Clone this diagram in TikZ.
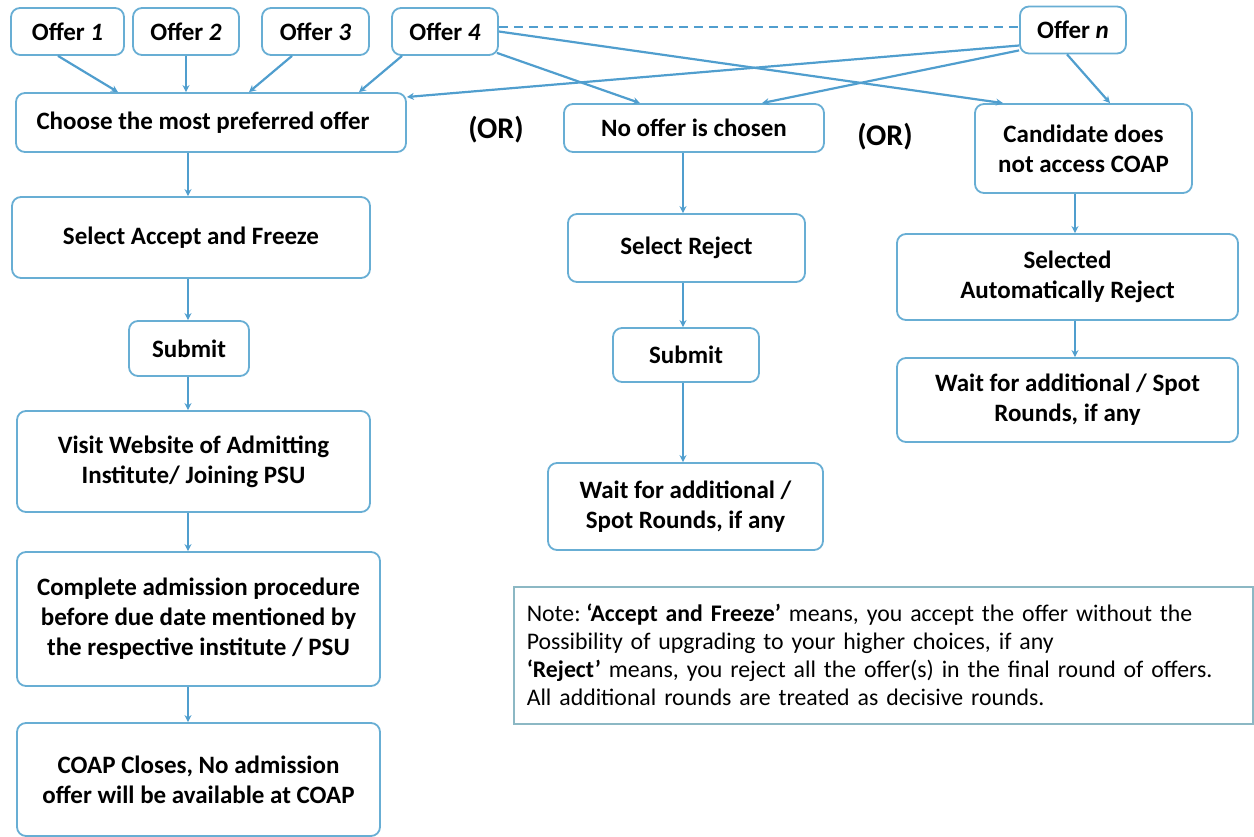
\documentclass[tikz,border=0pt]{standalone}
\usepackage{fontspec}
\setmainfont{Carlito}
\usetikzlibrary{arrows.meta,calc}
\definecolor{boxc}{RGB}{104,174,212}
\definecolor{linec}{RGB}{80,158,206}
\definecolor{notec}{RGB}{140,184,196}
\begin{document}
\begin{tikzpicture}[x=1pt,y=-1pt,
  box/.style={draw=boxc,line width=1.8pt,rounded corners=9pt,fill=white,align=center,
    font=\fontsize{25}{30}\selectfont\bfseries,inner sep=0pt},
  conn/.style={draw=linec,line width=2.2pt,-{Stealth[length=7pt,width=7pt]}},
  ortext/.style={font=\fontsize{30}{32}\selectfont\bfseries,inner sep=0pt},
]
\useasboundingbox (0,0) rectangle (1254,837);
% offers
\node[box,minimum width=113pt,minimum height=47pt] (o1) at (67.5,31.5) {Offer \textit{1}};
\node[box,minimum width=106pt,minimum height=47pt] (o2) at (186,31.5) {Offer \textit{2}};
\node[box,minimum width=107pt,minimum height=47pt] (o3) at (315.5,31.5) {Offer \textit{3}};
\node[box,minimum width=106pt,minimum height=47pt] (o4) at (445,31.5) {Offer \textit{4}};
\node[box,minimum width=106pt,minimum height=47pt] (on) at (1073,30) {Offer \textit{n}};
% left column
\node[box,minimum width=390pt,minimum height=59pt] (choose) at (211,122.5) {Choose the most preferred offer\hspace{16pt}};
\node[box,minimum width=358pt,minimum height=81pt] (selacc) at (191,237.5) {Select Accept and Freeze};
\node[box,minimum width=120pt,minimum height=55pt] (sub1) at (189,348.5) {Submit};
\node[box,minimum width=353pt,minimum height=101pt] (visit) at (193.5,461.5) {Visit Website of Admitting\\Institute/ Joining PSU};
\node[box,minimum width=363pt,minimum height=134pt] (complete) at (198.5,619) {Complete admission procedure\\before due date mentioned by\\the respective institute / PSU};
\node[box,minimum width=363pt,minimum height=113pt] (coap) at (198.5,779.5) {COAP Closes, No admission\\offer will be available at COAP};
% middle column
\node[box,minimum width=260pt,minimum height=48pt] (nooffer) at (694,128) {No offer is chosen};
\node[box,minimum width=237pt,minimum height=68pt] (selrej) at (686.5,248) {Select Reject};
\node[box,minimum width=146pt,minimum height=54pt] (sub2) at (686,355) {Submit};
\node[box,minimum width=275pt,minimum height=87pt] (wait2) at (685.5,506.5) {Wait for additional /\\Spot Rounds, if any};
% right column
\node[box,minimum width=217pt,minimum height=89pt] (cand) at (1083.5,148.5) {Candidate does\\not access COAP};
\node[box,minimum width=341pt,minimum height=86pt] (selauto) at (1067.5,277) {Selected\\Automatically Reject};
\node[box,minimum width=341pt,minimum height=84pt] (wait3) at (1067.5,400) {Wait for additional / Spot\\Rounds, if any};
% OR labels
\node[ortext] (or1) at (496,130) {(OR)};
\node[ortext] (or2) at (885,137) {(OR)};
% note
\node[draw=notec,line width=1.5pt,anchor=north west,minimum width=739pt,minimum height=137pt,
  text width=713pt,inner xsep=13pt,inner ysep=0pt,align=left,
  font=\fontsize{23.8}{28}\selectfont] (note) at (513,586)
  {Note:\hspace{0.24em}\textbf{‘Accept and Freeze’} means, you accept the offer without the\\
   Possibility of upgrading to your higher choices, if any\\
   \textbf{‘Reject’} means, you reject all the offer(s) in the final round of offers.\\
   All additional rounds are treated as decisive rounds.};
% column coordinates
\coordinate (lc) at (188,0);
\coordinate (mc) at (683,0);
\coordinate (rc) at (1075,0);
% dashed link
\draw[linec,line width=2.2pt,dash pattern=on 9pt off 6pt] ([yshift=4.5pt]o4.east) -- ([yshift=3pt]on.west);
% offer connectors
\draw[conn] ([xshift=-9.5pt]o1.south) -- ([xshift=-93pt]choose.north);
\draw[conn] (o2.south) -- ([xshift=-25pt]choose.north);
\draw[conn] ([xshift=-23.5pt]o3.south) -- ([xshift=38pt]choose.north);
\draw[conn] ([xshift=-43pt]o4.south) -- ([xshift=148pt]choose.north);
\draw[conn] ([yshift=-15.5pt]on.west) -- ([yshift=25.5pt]choose.east);
\draw[conn] (o4.east) -- ([xshift=-80.5pt]cand.north);
\draw[conn] ([xshift=-2pt,yshift=3pt]o4.south east) -- ([xshift=-54pt]nooffer.north);
\draw[conn] ([yshift=4pt]on.south west) -- ([xshift=68pt]nooffer.north);
\draw[conn] ([xshift=-6pt]on.south) -- ([xshift=26.5pt]cand.north);
% left column
\draw[conn] (choose.south -| lc) -- (selacc.north -| lc);
\draw[conn] (selacc.south -| lc) -- (sub1.north -| lc);
\draw[conn] (sub1.south -| lc) -- (visit.north -| lc);
\draw[conn] (visit.south -| lc) -- (complete.north -| lc);
\draw[conn] (complete.south -| lc) -- (coap.north -| lc);
% middle column
\draw[conn] (nooffer.south -| mc) -- (selrej.north -| mc);
\draw[conn] (selrej.south -| mc) -- (sub2.north -| mc);
\draw[conn] (sub2.south -| mc) -- (wait2.north -| mc);
% right column
\draw[conn] (cand.south -| rc) -- (selauto.north -| rc);
\draw[conn] (selauto.south -| rc) -- (wait3.north -| rc);
\end{tikzpicture}
\end{document}
